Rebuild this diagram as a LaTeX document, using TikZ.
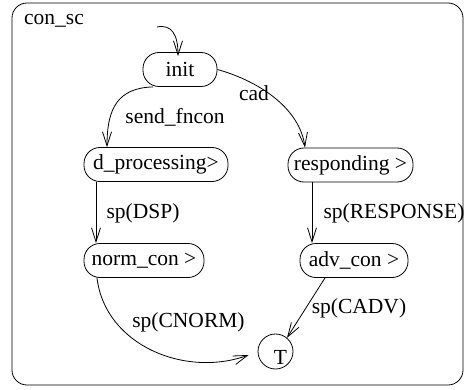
\documentclass[tikz,border=0pt]{standalone}
\usepackage{fontspec}
\setmainfont{Liberation Serif}
\usetikzlibrary{arrows.meta}
\begin{document}
\begin{tikzpicture}[x=1pt,y=-1pt,line width=0.8pt,
  txt/.style={font=\fontsize{21.5}{25}\selectfont},
  state/.style={draw, txt, rounded corners=16pt, minimum height=34pt, inner sep=0pt},
  lbl/.style={txt, inner sep=0pt},
  tr/.style={draw, -{Straight Barb[length=14pt,width=9pt,line width=0.8pt]}},
  ]
\useasboundingbox (0,0) rectangle (465,390);
% enclosing superstate
\draw[rounded corners=15pt] (12,3) rectangle (463,385);
\node[lbl] (title) at (54,21) {con\_sc};

% states
\node[state, minimum width=74pt]  (init)  at (180,69.5)  {init};
\node[state, minimum width=144pt] (dproc) at (156,164.5) {d\_processing\textgreater};
\node[state, minimum width=120pt] (norm)  at (144,260.5) {norm\_con \textgreater};
\node[state, minimum width=125pt] (resp)  at (350.5,165) {responding \textgreater};
\node[state, minimum width=108pt] (adv)   at (354,260.5) {adv\_con \textgreater};
\node[draw, circle, minimum size=35pt, inner sep=0pt] (T) at (275.5,351.5) {};
\node[lbl] (Tlbl) at (280.5,357) {T};

% default transition
\coordinate (dflt) at (157,27);
\draw[tr] (dflt) .. controls (172,24) and (178,35) .. ([xshift=-2pt,yshift=-4pt]init.north);

% transitions
\draw[tr] ([xshift=-27pt]init.south) .. controls (118,88) and (107,108) .. ([xshift=-49pt]dproc.north);
\node[lbl] (l1) at (175,117) {send\_fncon};

\draw[tr] (init.east) .. controls (262,82) and (300,110) .. ([xshift=-45.5pt]resp.north);
\node[lbl] (l2) at (254,93) {cad};

\draw[tr] ([xshift=-60pt]dproc.south) -- ([xshift=-48pt]norm.north);
\node[lbl] (l3) at (143,213) {sp(DSP)};

\draw[tr] ([xshift=-38.5pt]resp.south) -- ([xshift=-42pt]adv.north);
\node[lbl] (l4) at (394,213) {sp(RESPONSE)};

\draw[tr] ([xshift=-29pt]adv.south) -- (T.50);
\node[lbl] (l5) at (359,308) {sp(CADV)};

\draw[tr] ([xshift=-47pt]norm.south) .. controls (105,345) and (185,378) .. ([xshift=-9pt,yshift=-3.5pt]T.west);
\node[lbl] (l6) at (188.5,322) {sp(CNORM)};
\end{tikzpicture}
\end{document}
